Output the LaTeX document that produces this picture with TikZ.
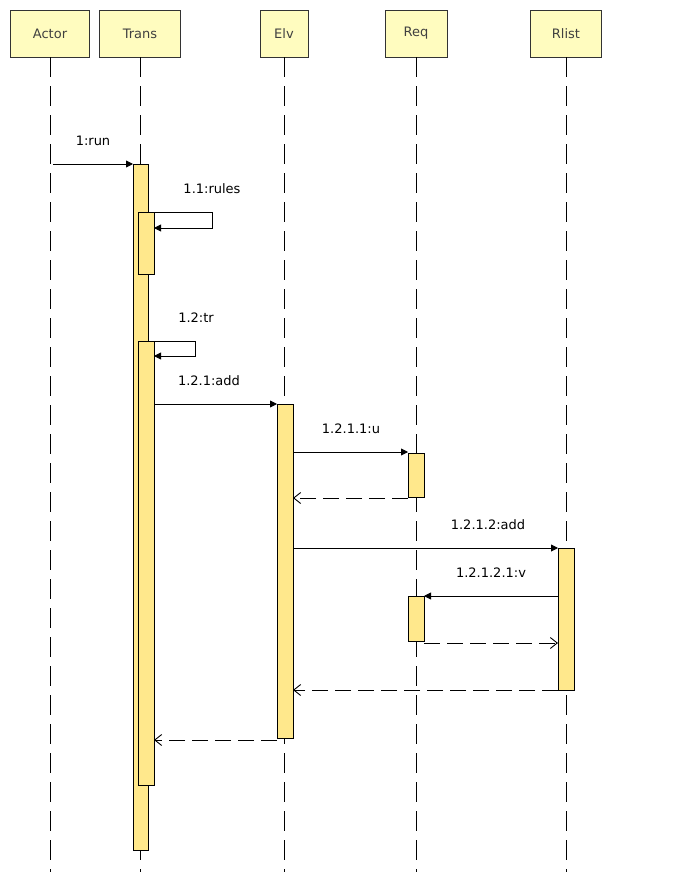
\documentclass[tikz,border=0pt]{standalone}
\usepackage{fontspec}
\setmainfont{DejaVu Sans}
\usetikzlibrary{arrows.meta}
\tikzset{
  head/.style={draw=black!80, fill=yellow!25!white, line width=0.9pt, minimum height=47pt, inner sep=0pt, font=\fontsize{13}{15}\selectfont\color{black!75}},
  life/.style={draw, line width=0.9pt, dash pattern=on 20pt off 9pt},
  bar/.style={draw, fill=orange!40!yellow!45!white, line width=0.9pt},
  call/.style={draw, line width=0.9pt, -{Triangle[length=7pt,width=7pt]}},
  reply/.style={draw, line width=0.9pt, dash pattern=on 16pt off 7pt, -{Straight Barb[length=7pt,width=11pt]}},
  lbl/.style={font=\fontsize{13}{15}\selectfont, inner sep=0pt}
}
\begin{document}
\begin{tikzpicture}[x=1pt,y=-1pt]
    \useasboundingbox (0,0) rectangle (676,872);
    % Köpfe
    \node[head, minimum width=79pt] (actor) at (50,33.5) {Actor};
    \node[head, minimum width=81pt] (trans) at (140,33.5) {Trans};
    \node[head, minimum width=48pt] (elv) at (284,33.5) {Elv};
    \node[head, minimum width=62pt] (req) at (416,33.5) {Req};
    \node[head, minimum width=71pt] (rlist) at (566,33.5) {Rlist};

    % Lebenslinien
    \foreach \n/\x in {actor/50, trans/140, elv/284, req/416, rlist/566}
      \draw[life] (\n.south) -- (\x,872);

    % Aktivierungen
    \draw[bar] (133,164) rectangle (148,850);
    \draw[bar] (138,212) rectangle (154,274);
    \draw[bar] (138,341) rectangle (154,785);
    \draw[bar] (277,404) rectangle (293,738);
    \draw[bar] (408,453) rectangle (424,497);
    \draw[bar] (558,548) rectangle (574,690);
    \draw[bar] (408,596) rectangle (424,641);

    % Punkte der Nachrichten
    \coordinate (a1) at (53,164);   \coordinate (t1) at (133,164);
    \coordinate (t2) at (154,212);  \coordinate (t3) at (154,228);
    \coordinate (t4) at (154,341);  \coordinate (t5) at (154,356);
    \coordinate (t6) at (154,404);  \coordinate (e1) at (277,404);
    \coordinate (e2) at (293,452);  \coordinate (q1) at (408,452);
    \coordinate (q2) at (408,498);  \coordinate (e3) at (293,498);
    \coordinate (e4) at (293,548);  \coordinate (r1) at (558,548);
    \coordinate (r2) at (558,596);  \coordinate (q3) at (424,596);
    \coordinate (q4) at (424,643);  \coordinate (r3) at (558,643);
    \coordinate (r4) at (558,690);  \coordinate (e5) at (293,690);
    \coordinate (e6) at (277,740);  \coordinate (t7) at (154,740);

    % Nachrichten
    \draw[call] (a1) -- (t1);
    \draw[call] (t2) -- (212,212) -- (212,228) -- (t3);
    \draw[call] (t4) -- (195,341) -- (195,356) -- (t5);
    \draw[call] (t6) -- (e1);
    \draw[call] (e2) -- (q1);
    \draw[reply] (q2) -- (e3);
    \draw[call] (e4) -- (r1);
    \draw[call] (r2) -- (q3);
    \draw[reply] (q4) -- (r3);
    \draw[reply] (r4) -- (e5);
    \draw[reply] (e6) -- (t7);

    % Beschriftungen
    \node[lbl] (m1) at (93,141) {1:run};
    \node[lbl] (m2) at (212,189) {1.1:rules};
    \node[lbl] (m3) at (196,318) {1.2:tr};
    \node[lbl] (m4) at (209,381) {1.2.1:add};
    \node[lbl] (m5) at (351,429) {1.2.1.1:u};
    \node[lbl] (m6) at (488,525) {1.2.1.2:add};
    \node[lbl] (m7) at (491,573) {1.2.1.2.1:v};
\end{tikzpicture}
\end{document}
